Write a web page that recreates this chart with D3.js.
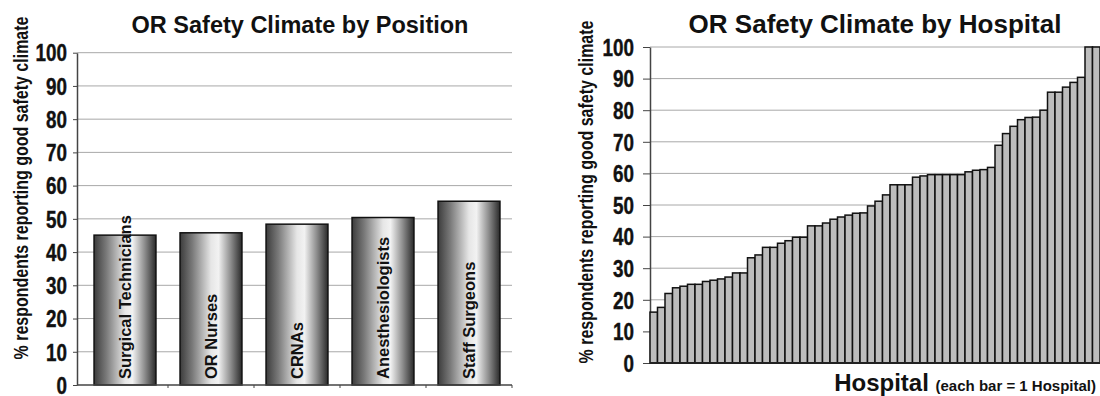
<!DOCTYPE html>
<html>
<head>
<meta charset="utf-8">
<script src="https://cdn.jsdelivr.net/npm/d3@7"></script>
<style>
  html, body { margin: 0; padding: 0; background: #fff; }
  svg { display: block; font-family: "Liberation Sans", Arial, sans-serif; }
</style>
</head>
<body>
<svg id="chart" width="1100" height="396"></svg>
<script>
// Safety climate by staff position
const positions = ["Surgical Technicians", "OR Nurses", "CRNAs", "Anesthesiologists", "Staff Surgeons"];
const positionValues = [45.1, 45.8, 48.4, 50.4, 55.3];

// Safety climate per hospital, sorted ascending (one bar per hospital)
const hospitalValues = [
  16.1, 17.6, 22.0, 23.8, 24.3, 24.9, 24.9, 25.8, 26.2, 26.6,
  27.2, 28.5, 28.5, 33.3, 34.2, 36.6, 36.6, 37.9, 38.7, 39.8,
  39.8, 43.4, 43.4, 44.3, 45.5, 46.2, 46.8, 47.4, 47.5, 49.7,
  51.2, 53.2, 56.4, 56.4, 56.4, 58.8, 59.2, 59.6, 59.6, 59.6,
  59.6, 59.6, 60.5, 61.0, 61.2, 61.9, 68.9, 72.6, 74.9, 77.0,
  77.7, 77.8, 80.0, 85.7, 85.7, 87.3, 88.8, 90.4, 100, 100
];

const yTicks = [0, 10, 20, 30, 40, 50, 60, 70, 80, 90, 100];
const yTitle = "% respondents reporting good safety climate";

const svg = d3.select("#chart");

// cylinder-style shading for the position bars
const defs = svg.append("defs");
const grad = defs.append("linearGradient").attr("id", "cyl")
  .attr("x1", "0%").attr("x2", "100%").attr("y1", "0%").attr("y2", "0%");
[[0, "#3c3c3c"], [0.2, "#7a7a7a"], [0.5, "#e6e6e6"], [0.62, "#f2f2f2"], [0.82, "#8c8c8c"], [1, "#2a2a2a"]]
  .forEach(([o, c]) => grad.append("stop").attr("offset", o).attr("stop-color", c));

const NARROW = 0.82;

function yAxis(g, y, x0, x1, fontSize, labelGap, tickLen) {
  // grid lines
  g.append("g").selectAll("line").data(yTicks.filter(d => d > 0)).join("line")
    .attr("x1", x0).attr("x2", x1)
    .attr("y1", d => y(d)).attr("y2", d => y(d))
    .attr("stroke", "#a8a8a8").attr("stroke-width", 1);
  const ax = g.append("g").attr("transform", `translate(${x0},0)`)
    .call(d3.axisLeft(y).tickValues(yTicks).tickSize(tickLen).tickSizeOuter(0));
  ax.select(".domain").attr("stroke", "#444").attr("stroke-width", 1.5);
  ax.selectAll(".tick line").attr("stroke", "#444");
  ax.selectAll(".tick text")
    .attr("x", -labelGap / NARROW)
    .attr("transform", `scale(${NARROW},1)`)
    .attr("dy", "0.36em")
    .style("font-size", fontSize + "px")
    .style("font-weight", "bold")
    .style("font-family", "'Liberation Sans', Arial, sans-serif")
    .attr("fill", "#111")
    .attr("stroke", "#111").attr("stroke-width", 0.4);
  return ax;
}

function yTitleText(x, yc, size) {
  svg.append("text")
    .attr("transform", `translate(${x},${yc}) rotate(-90) scale(${NARROW},1)`)
    .attr("text-anchor", "middle")
    .style("font-size", size + "px")
    .style("font-weight", "bold")
    .attr("fill", "#111")
    .text(yTitle);
}

// ---------- Left: by position ----------
{
  const g = svg.append("g");
  const y = d3.scaleLinear().domain([0, 100]).range([385, 52.7]);
  const x = d3.scaleBand().domain(positions).range([82, 512])
    .paddingInner(0.28).paddingOuter(0.14);

  yAxis(g, y, 77, 512, 23, 10, 4);

  g.append("g").selectAll("rect").data(positions).join("rect")
    .attr("x", d => x(d))
    .attr("width", x.bandwidth())
    .attr("y", (d, i) => y(positionValues[i]))
    .attr("height", (d, i) => y(0) - y(positionValues[i]))
    .attr("fill", "url(#cyl)")
    .attr("stroke", "#111").attr("stroke-width", 1.5);

  // baseline with category separators
  const xa = g.append("g").attr("transform", `translate(0,${y(0)})`);
  xa.append("line").attr("x1", 77).attr("x2", 512).attr("stroke", "#444").attr("stroke-width", 1.5);
  xa.selectAll("line.sep").data(positions.slice(1).concat(["end"])).join("line")
    .attr("class", "sep")
    .attr("x1", (d, i) => i < positions.length - 1 ? x(d) - x.step() * x.paddingInner() / 2 : 512)
    .attr("x2", (d, i) => i < positions.length - 1 ? x(d) - x.step() * x.paddingInner() / 2 : 512)
    .attr("y1", 0).attr("y2", 3).attr("stroke", "#444");

  g.append("g").selectAll("text").data(positions).join("text")
    .attr("transform", d => `translate(${x(d) + x.bandwidth() / 2},379) rotate(-90)`)
    .attr("dy", "0.36em")
    .style("font-size", "16.5px")
    .style("font-weight", "bold")
    .attr("fill", "#111")
    .text(d => d);

  svg.append("text")
    .attr("x", 300).attr("y", 33)
    .attr("text-anchor", "middle")
    .style("font-size", "23.5px").style("font-weight", "bold").attr("fill", "#111")
    .text("OR Safety Climate by Position");

  yTitleText(28, 188, 19.5);
}

// ---------- Right: by hospital ----------
{
  const g = svg.append("g");
  const y = d3.scaleLinear().domain([0, 100]).range([363, 47]);
  const x = d3.scaleBand().domain(d3.range(hospitalValues.length)).range([650, 1100]).padding(0);

  yAxis(g, y, 650, 1100, 23, 16, 7);

  g.append("g").selectAll("rect").data(hospitalValues).join("rect")
    .attr("x", (d, i) => x(i))
    .attr("width", x.bandwidth())
    .attr("y", d => y(d))
    .attr("height", d => y(0) - y(d))
    .attr("fill", "#bdbdbd")
    .attr("stroke", "#111").attr("stroke-width", 1.5);

  g.append("line").attr("x1", 650).attr("x2", 1100)
    .attr("y1", y(0)).attr("y2", y(0))
    .attr("stroke", "#222").attr("stroke-width", 2);

  svg.append("text")
    .attr("x", 875).attr("y", 33)
    .attr("text-anchor", "middle")
    .style("font-size", "26px").style("font-weight", "bold").attr("fill", "#111")
    .text("OR Safety Climate by Hospital");

  yTitleText(593, 192, 19.5);

  const xl = svg.append("text")
    .attr("x", 1096).attr("y", 391)
    .attr("text-anchor", "end")
    .style("font-weight", "bold").attr("fill", "#111");
  xl.append("tspan").style("font-size", "24px").text("Hospital ");
  xl.append("tspan").style("font-size", "15px").text("(each bar = 1 Hospital)");
}
</script>
</body>
</html>
